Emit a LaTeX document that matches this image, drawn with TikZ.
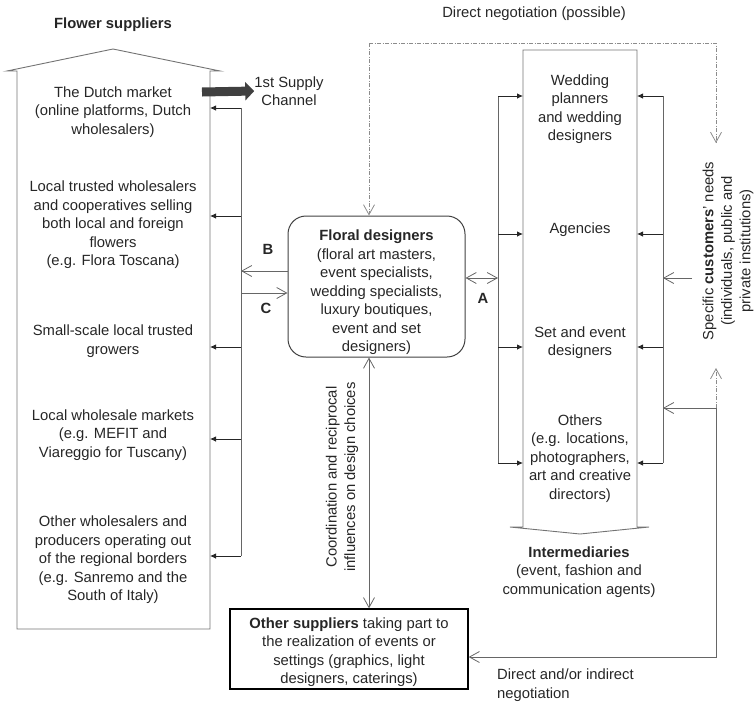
\documentclass[tikz,border=0pt]{standalone}
\usepackage{fontspec}
\setmainfont{Liberation Sans}
\usetikzlibrary{arrows.meta,calc}

\newcommand{\diagfont}{\fontsize{14.8}{18.5}\selectfont}
\tikzset{
  txt/.style={font=\diagfont, align=center, inner sep=0pt, text=black!85},
  boldtxt/.style={txt, font=\diagfont\bfseries},
  outline/.style={draw=black!55, line width=0.9pt},
  link/.style={draw=black!85, line width=0.8pt, -{Latex[length=6pt,width=5.5pt]}},
  openarr/.style={draw=black!60, line width=0.8pt, -{Straight Barb[length=10pt,width=11pt]}},
  dashdot/.style={draw=black!45, line width=0.8pt, dash pattern=on 4pt off 1.5pt on 1pt off 1.5pt},
}

\begin{document}
\begin{tikzpicture}[x=1pt,y=-1pt]
\useasboundingbox (0,0) rectangle (754,702);

% ---------- flower suppliers (house shape) ----------
\draw[outline] (17,629) -- (17,71) -- (7,71) -- (113,49) -- (220,71) -- (210,71) -- (210,629) -- cycle;
\node[boldtxt] (fstitle) at (113,25) {Flower suppliers};
\node[txt] (dutch)   at (113,112) {The Dutch market\\(online platforms, Dutch\\wholesalers)};
\node[txt] (trusted) at (113,225) {Local trusted wholesalers\\and cooperatives selling\\both local and foreign\\flowers\\(e.g. Flora Toscana)};
\node[txt] (small)   at (113,341) {Small-scale local trusted\\growers};
\node[txt] (localmk) at (113,435) {Local wholesale markets\\(e.g. MEFIT and\\Viareggio for Tuscany)};
\node[txt] (otherws) at (113,560) {Other wholesalers and\\producers operating out\\of the regional borders\\(e.g. Sanremo and the\\South of Italy)};

% first supply channel
\node[txt] (supply) at (289,91) {1st Supply\\Channel};
\coordinate (dutchout) at (202,92);
\draw[draw=black!75, line width=9pt, -{Triangle[length=9pt,width=18pt]}] (dutchout) -- (supply.west);

% supply spine with returns to the suppliers
\coordinate (spT) at (241,108);
\coordinate (spB) at (241,556);
\draw[draw=black!60, line width=0.8pt] (spT) -- (spB);
\foreach \yy in {108,216,347,439,556}
  \draw[link] (241,\yy) -- (210,\yy);

% ---------- floral designers ----------
\node[draw=black!75, line width=1pt, rounded corners=18pt, minimum width=177pt, minimum height=141pt, inner sep=0pt] (fd) at (376.5,286.5) {};
\node[txt] (fdtext) at (376.5,292.5) {\textbf{Floral designers}\\(floral art masters,\\event specialists,\\wedding specialists,\\luxury boutiques,\\event and set\\designers)};

\draw[openarr] (fd.west |- 0,271) -- (241,271);
\draw[openarr] (241,293) -- (fd.west |- 0,293);
\node[boldtxt] (lblB) at (268,249) {B};
\node[boldtxt] (lblC) at (266,308) {C};

% ---------- intermediaries (arrow shape) ----------
\draw[outline] (523,527) -- (523,50) -- (637,50) -- (637,527) -- (649,527) -- (580,534) -- (510,527) -- cycle;
\node[txt] (wed)    at (580,109) {Wedding\\planners\\and wedding\\designers};
\node[txt] (agen)   at (580,230) {Agencies};
\node[txt] (setev)  at (580,342.5) {Set and event\\designers};
\node[txt] (others) at (580,458.5) {Others\\(e.g. locations,\\photographers,\\art and creative\\directors)};
\node[txt] (interm) at (579,572) {\textbf{Intermediaries}\\(event, fashion and\\communication agents)};

% rails on both sides of the intermediaries
\draw[draw=black!60, line width=0.8pt] (498,96) -- (498,463);
\draw[draw=black!60, line width=0.8pt] (663,96) -- (663,463);
\foreach \yy in {96,234,347,463}{
  \draw[link] (498,\yy) -- (523,\yy);
  \draw[link] (663,\yy) -- (637,\yy);
}

% A: floral designers <-> intermediaries
\coordinate (railA) at (498,278);
\draw[openarr, {Straight Barb[length=10pt,width=11pt]}-{Straight Barb[length=10pt,width=11pt]}] (fd.east |- railA) -- (railA);
\node[boldtxt] (lblA) at (483,298) {A};

% ---------- customers ----------
\node[txt, rotate=90] (cust) at (728,251) {Specific \textbf{customers}' needs\\(individuals, public and\\private institutions)};
\draw[openarr] (692,278) -- (663,278);

% direct negotiation (possible)
\node[txt] (dirneg) at (534,14) {Direct negotiation (possible)};
\coordinate (dnL) at (369,43);
\coordinate (dnR) at (716,43);
\draw[dashdot, -{Straight Barb[length=10pt,width=11pt]}] (dnL) -- (fd.north -| dnL);
\draw[dashdot, -{Straight Barb[length=10pt,width=11pt]}] (dnL) -- (dnR) -- (716,143);

% ---------- other suppliers ----------
\node[draw=black, line width=1.3pt, minimum width=238pt, minimum height=80pt, inner sep=0pt] (os) at (349,649) {};
\node[txt] (ostext) at (349,652) {\textbf{Other suppliers} taking part to\\the realization of events or\\settings (graphics, light\\designers, caterings)};

\draw[openarr, {Straight Barb[length=10pt,width=11pt]}-{Straight Barb[length=10pt,width=11pt]}] (fd.south -| 369,0) -- (os.north -| 369,0);
\node[txt, rotate=90] (coord) at (342,477) {Coordination and reciprocal\\influences on design choices};

% direct and/or indirect negotiation
\coordinate (jn) at (716,408);
\draw[openarr] (jn) -- (663,408);
\draw[openarr] (jn) -- (716,657) -- (os.east |- 0,657);
\draw[dashdot, -{Straight Barb[length=10pt,width=11pt]}] (jn) -- (716,368);
\node[txt, align=left, anchor=west] (dineg) at (497,685) {Direct and/or indirect\\negotiation};

\end{tikzpicture}
\end{document}
